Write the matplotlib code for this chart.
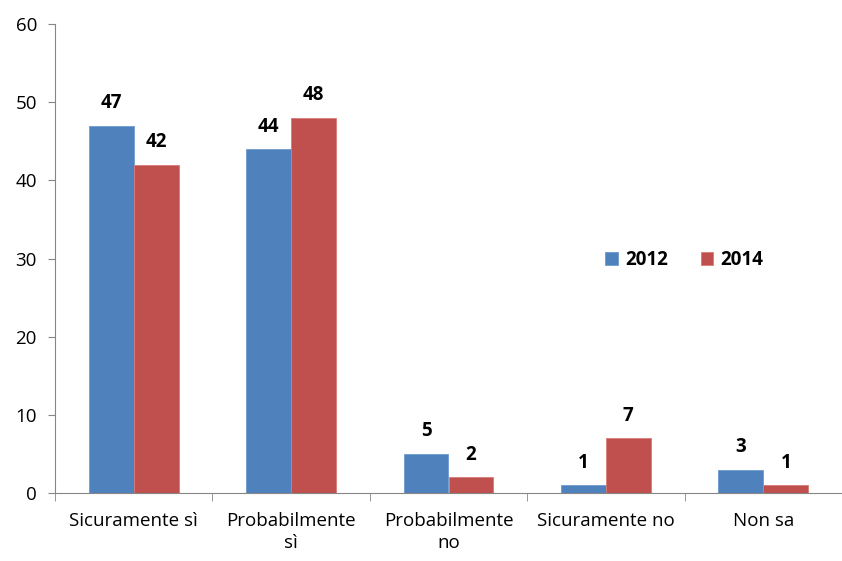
import matplotlib
matplotlib.use("Agg")
import matplotlib.pyplot as plt
import numpy as np

categories = ["Sicuramente sì", "Probabilmente\nsì", "Probabilmente\nno", "Sicuramente no", "Non sa"]
values_2012 = [47, 44, 5, 1, 3]
values_2014 = [42, 48, 2, 7, 1]
series_names = ["2012", "2014"]
yticks = [0, 10, 20, 30, 40, 50, 60]

plt.rcParams['font.family'] = ['Open Sans', 'DejaVu Sans']

fig = plt.figure(figsize=(8.42, 5.61), dpi=100)
ax = fig.add_axes([55/842, 68/561, 787/842, 469/561])

x = np.arange(len(categories))
w = 0.285
blue = "#4F81BD"
red = "#C0504D"
b1 = ax.bar(x - w/2, values_2012, w, color=blue, edgecolor="#6f9bd1", linewidth=0.6, label=series_names[0])
b2 = ax.bar(x + w/2, values_2014, w, color=red, edgecolor="#d87a77", linewidth=0.6, label=series_names[1])

for bars in (b1, b2):
    for rect in bars:
        h = rect.get_height()
        ax.annotate(f"{h:g}", (rect.get_x() + rect.get_width()/2, h),
                    xytext=(0, 9), textcoords="offset points",
                    ha="center", va="bottom", fontsize=13.5, fontweight="bold", color="black")

ax.set_xlim(-0.5, len(categories) - 0.5)
ax.set_ylim(0, 60)
ax.set_yticks(yticks)
ax.tick_params(axis='y', labelsize=13.5, length=5, color="#868686", pad=8)
ax.set_xticks(x)
ax.set_xticklabels(categories, fontsize=13.5, linespacing=1.25)
ax.tick_params(axis='x', length=0, pad=14)
ax.set_xticks(np.arange(len(categories) + 1) - 0.5, minor=True)
ax.tick_params(axis='x', which='minor', length=6, color="#868686")

for s in ["top", "right"]:
    ax.spines[s].set_visible(False)
for s in ["left", "bottom"]:
    ax.spines[s].set_color("#868686")

leg = ax.legend(loc="center left", bbox_to_anchor=(0.678, 0.497), ncol=2, frameon=False,
                prop={'weight': 'bold', 'size': 13.5}, handlelength=0.65, handleheight=0.65,
                columnspacing=1.75, handletextpad=0.4)

fig.savefig("out.png", dpi=100)
